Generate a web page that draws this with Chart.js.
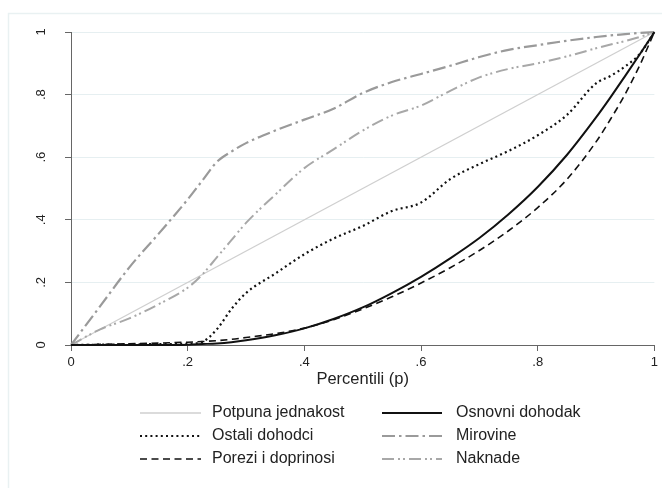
<!DOCTYPE html>
<html><head><meta charset="utf-8">
<script src="https://cdn.jsdelivr.net/npm/chart.js@4.4.1/dist/chart.umd.min.js"></script>
<style>html,body{margin:0;padding:0;background:#fff;}#wrap{position:relative;width:662px;height:488px;}</style>
</head><body><div id="wrap"><canvas id="c" width="662" height="488"></canvas></div>
<script>
// ---- data ----
const pctl = [0,0.05,0.1,0.15,0.2,0.225,0.25,0.275,0.3,0.35,0.4,0.45,0.5,0.55,0.6,0.65,0.7,0.75,0.8,0.85,0.9,0.925,0.95,0.975,1];
const equalityX = [0, 1];
const equalityY = [0, 1];
const osnovni = [0,0,0,0,0.001,0.003,0.005,0.009,0.015,0.031,0.053,0.083,0.12,0.166,0.218,0.277,0.342,0.418,0.505,0.607,0.727,0.792,0.86,0.929,1];
const ostali  = [0,0.001,0.002,0.003,0.004,0.01,0.05,0.115,0.166,0.228,0.29,0.34,0.38,0.428,0.455,0.53,0.578,0.62,0.67,0.735,0.836,0.86,0.89,0.93,1];
const mirovine = [0,0.124,0.248,0.355,0.465,0.525,0.585,0.618,0.645,0.685,0.72,0.755,0.805,0.84,0.866,0.892,0.92,0.943,0.958,0.972,0.984,0.989,0.993,0.997,1];
const porezi  = [0,0.002,0.004,0.006,0.009,0.011,0.014,0.018,0.024,0.036,0.054,0.081,0.115,0.154,0.198,0.247,0.302,0.365,0.439,0.529,0.649,0.722,0.802,0.894,1];
const naknade = [0,0.05,0.085,0.13,0.183,0.225,0.28,0.335,0.39,0.48,0.565,0.625,0.685,0.733,0.765,0.812,0.855,0.882,0.9,0.922,0.948,0.96,0.971,0.984,1];
const xTickLabels = ['0','.2','.4','.6','.8','1'];
const yTickLabels = ['0','.2','.4','.6','.8','1'];
const seriesNames = ['Potpuna jednakost','Osnovni dohodak','Ostali dohodci','Mirovine','Porezi i doprinosi','Naknade'];
const xTitle = 'Percentili (p)';

// ---- styles ----
const FONT = '"Liberation Sans", Arial, Helvetica, sans-serif';
const styles = [
  {color:'#cfcfcf', width:1.3, dash:[]},
  {color:'#111111', width:2,   dash:[]},
  {color:'#111111', width:2.2, dash:[2,3.2]},
  {color:'#9a9a9a', width:2.2, dash:[13,4,2.5,4]},
  {color:'#111111', width:1.6, dash:[7,4.5]},
  {color:'#a8a8a8', width:2,   dash:[12,4,2,3,2,4]}
];
function pts(xs, ys){ return ys.map((y,i)=>({x:xs[i], y:y})); }
const seriesData = [
  pts(equalityX, equalityY), pts(pctl, osnovni), pts(pctl, ostali),
  pts(pctl, mirovine), pts(pctl, porezi), pts(pctl, naknade)
];
const drawOrder = [0,2,5,3,4,1];
const datasets = drawOrder.map((k,i)=>({
  label: seriesNames[k], data: seriesData[k],
  borderColor: styles[k].color, borderWidth: styles[k].width, borderDash: styles[k].dash,
  pointRadius: 0, fill: false, cubicInterpolationMode: 'monotone', clip: 4, order: 10 - i
}));

const frame = {
  id:'frame',
  beforeDraw(chart){
    const ctx = chart.ctx;
    ctx.save();
    ctx.fillStyle = '#ffffff'; ctx.fillRect(0,0,chart.width,chart.height);
    ctx.strokeStyle = '#e9f1f2'; ctx.lineWidth = 1.5;
    ctx.strokeRect(8.5, 13.5, 700, 520);
    ctx.restore();
  }
};
const legendPlug = {
  id:'legendPlug',
  afterDraw(chart){
    const ctx = chart.ctx;
    const cols = [{x0:140, x1:201, tx:212}, {x0:382, x1:442, tx:456}];
    const rows = [413, 436, 459];
    const layout = [[0,0,0],[1,0,1],[0,1,2],[1,1,3],[0,2,4],[1,2,5]];
    ctx.save();
    layout.forEach(([c, r, k])=>{
      const y = rows[r];
      ctx.beginPath();
      ctx.setLineDash(styles[k].dash);
      ctx.strokeStyle = styles[k].color; ctx.lineWidth = styles[k].width;
      ctx.moveTo(cols[c].x0, y); ctx.lineTo(cols[c].x1, y); ctx.stroke();
      ctx.setLineDash([]);
      ctx.fillStyle = '#222'; ctx.font = '16px ' + FONT;
      ctx.textBaseline = 'middle'; ctx.textAlign = 'left';
      ctx.fillText(seriesNames[k], cols[c].tx, y);
    });
    ctx.restore();
  }
};

new Chart(document.getElementById('c'), {
  type: 'line',
  data: { datasets },
  plugins: [frame, legendPlug],
  options: {
    responsive: false, devicePixelRatio: 1, animation: false,
    layout: { padding: { top: 32, right: 7, left: 0, bottom: 0 } },
    plugins: { legend: { display: false }, tooltip: { enabled: false } },
    scales: {
      x: {
        type: 'linear', min: 0, max: 1,
        afterFit(s){ s.height = 143; },
        afterBuildTicks(s){ s.ticks = [0,0.2,0.4,0.6,0.8,1].map(v=>({value:v})); },
        ticks: { callback:(v,i)=>xTickLabels[i], font:{family:FONT, size:13}, color:'#222', padding:4, maxRotation:0 },
        grid: { drawOnChartArea:false, tickLength:6, tickColor:'#666', color:'#666' },
        border: { color:'#666', width:1 },
        title: { display:true, text:xTitle, font:{family:FONT, size:16.5}, color:'#222', padding:{top:0, bottom:99} }
      },
      y: {
        type: 'linear', min: 0, max: 1,
        afterFit(s){ s.width = 71; },
        afterBuildTicks(s){ s.ticks = [0,0.2,0.4,0.6,0.8,1].map(v=>({value:v})); },
        ticks: { callback:(v,i)=>yTickLabels[i], font:{family:FONT, size:13}, color:'#222',
                 minRotation:90, maxRotation:90, crossAlign:'center', padding:18 },
        grid: { color:'#e6eff1', lineWidth:1, tickLength:6, tickColor:'#666' },
        border: { color:'#666', width:1 }
      }
    }
  }
});
</script></body></html>
